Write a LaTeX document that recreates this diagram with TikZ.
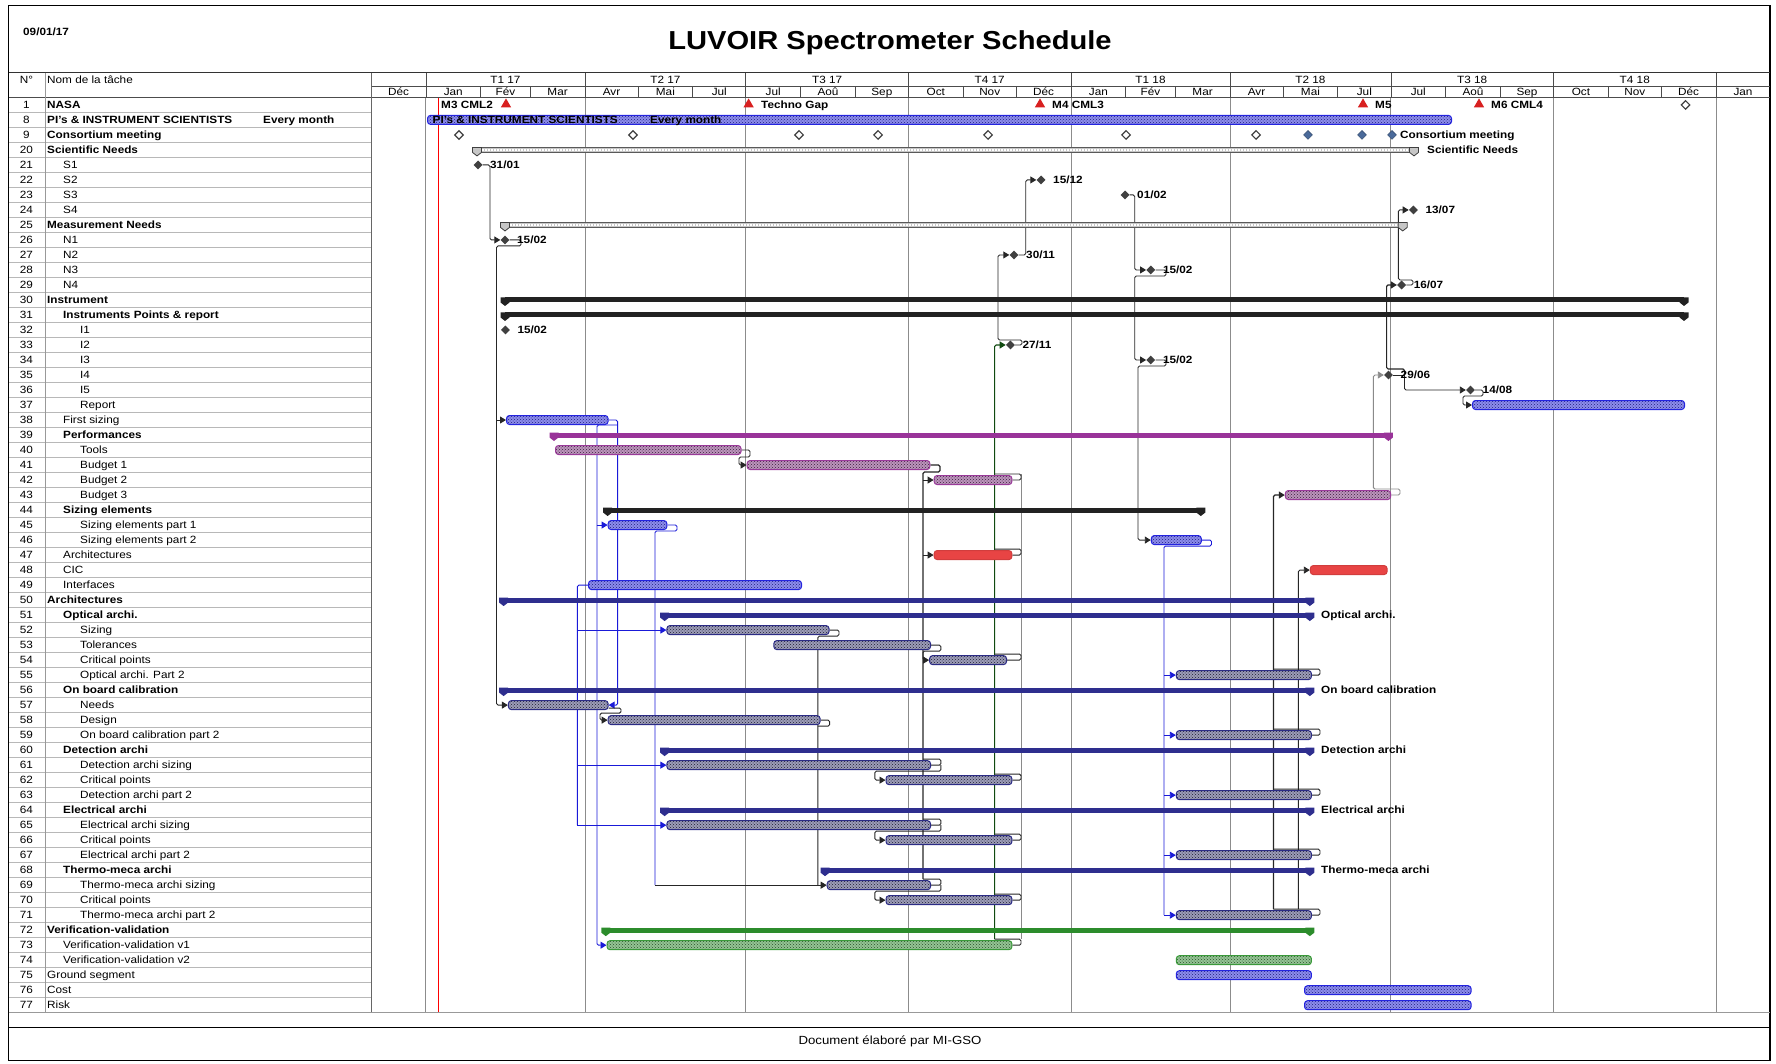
\documentclass[tikz,border=0pt]{standalone}
\usepackage{fontspec}
\setmainfont{Liberation Sans}[FakeStretch=1.12]
\usetikzlibrary{shapes.geometric,arrows.meta,patterns}
\definecolor{bBlueD}{HTML}{2424E0}
\definecolor{bBlueF}{HTML}{8C8CEC}
\definecolor{bBlueP}{HTML}{20207A}
\definecolor{bNavyD}{HTML}{2C2C86}
\definecolor{bNavyF}{HTML}{9C9CB8}
\definecolor{bNavyP}{HTML}{1E1E30}
\definecolor{bPurD}{HTML}{9A3A9A}
\definecolor{bPurF}{HTML}{BC94BC}
\definecolor{bPurP}{HTML}{3A203A}
\definecolor{bGrnD}{HTML}{3A9A3A}
\definecolor{bGrnF}{HTML}{94C494}
\definecolor{bGrnP}{HTML}{2A502A}
\definecolor{bRed}{HTML}{E84444}
\definecolor{sNavy}{HTML}{2E2E8E}
\definecolor{sPur}{HTML}{993399}
\definecolor{sGrn}{HTML}{2C8C2C}
\definecolor{sBlk}{HTML}{222222}
\definecolor{gridG}{HTML}{8C8C8C}
\definecolor{rowG}{HTML}{B8B8B8}
\definecolor{depBlue}{HTML}{1A1AD8}
\definecolor{depGrn}{HTML}{104A10}
\definecolor{depGray}{HTML}{8A8A8A}
\definecolor{msGray}{HTML}{404040}
\definecolor{msBlue}{HTML}{4A6A9A}
\definecolor{triRed}{HTML}{D82020}
\pgfdeclarelayer{gridlayer}
\pgfdeclarelayer{deplayer}
\pgfsetlayers{gridlayer,deplayer,main}
\tikzset{
  declare function={ry(\n)=104.9+15.005*((\n>=20)*(\n-17)+(\n==8)+2*(\n==9));},
  tasktxt/.style={anchor=west,inner sep=0pt,text height=7.5pt,text depth=0pt},
  numtxt/.style={inner sep=0pt,text height=7.5pt,text depth=0pt},
  lbl/.style={anchor=west,inner sep=0pt,text height=7.5pt,text depth=0pt,font=\fontsize{10.5}{12}\selectfont\bfseries},
  hdr/.style={inner sep=0pt,text height=7.5pt,text depth=0pt},
  gbase/.style={rounded corners=3pt,minimum height=9pt,inner sep=0pt,line width=1pt},
  gblue/.style={gbase,draw=bBlueD,preaction={fill=bBlueF},pattern=crosshatch dots,pattern color=bBlueP},
  gnavy/.style={gbase,draw=bNavyD,preaction={fill=bNavyF},pattern=crosshatch dots,pattern color=bNavyP},
  gpur/.style={gbase,draw=bPurD,preaction={fill=bPurF},pattern=crosshatch dots,pattern color=bPurP},
  ggrn/.style={gbase,draw=bGrnD,preaction={fill=bGrnF},pattern=crosshatch dots,pattern color=bGrnP},
  gred/.style={gbase,draw=bRed!90!black,fill=bRed},
  sumbar/.style={inner sep=0pt,minimum height=5pt,draw=none},
  ms/.style={diamond,inner sep=0pt,minimum size=9pt,fill=msGray},
  mso/.style={diamond,inner sep=0pt,minimum size=9pt,draw=msGray,line width=1.2pt,fill=white},
  msb/.style={diamond,inner sep=0pt,minimum size=9pt,fill=msBlue,draw=msBlue!70!black},
  tri/.style={regular polygon,regular polygon sides=3,inner sep=0pt,minimum size=12pt,fill=triRed},
  dl/.style={draw=black!85,line width=0.9pt,rounded corners=1.5pt},
  dep/.style={dl,-{Triangle[length=6pt,width=7pt]}},
  dlb/.style={dl,draw=depBlue},
  depb/.style={dep,draw=depBlue},
  dlg/.style={dl,draw=depGrn},
  depg/.style={dep,draw=depGrn},
  dlgr/.style={dl,draw=depGray},
  depgr/.style={dep,draw=depGray},
}
\newcommand\taskrow[4]{%
  \node[numtxt] (n#1) at (26.5,{ry(#1)}) {#1};
  \node[tasktxt] (t#1) at (#2,{ry(#1)}) {#3#4};}
\newcommand\gantbar[4]{\node[#1,minimum width={(#4-#3)*1pt},anchor=west] (b#2) at (#3,{ry(#2)}) {};}
\newcommand\sumb[4]{%
  \node[sumbar,fill=#1,minimum width={(#4-#3)*1pt},anchor=west] (b#2) at (#3,{ry(#2)}) {};
  \fill[#1] ({#3-4.5},{ry(#2)-2.5}) -- ++(9,0) -- ++(0,5) -- ++(-4.5,3.5) -- ++(-4.5,-3.5) -- cycle;
  \fill[#1] ({#4-4.5},{ry(#2)-2.5}) -- ++(9,0) -- ++(0,5) -- ++(-4.5,3.5) -- ++(-4.5,-3.5) -- cycle;}
\newcommand\hatchb[3]{%
  \node[sumbar,minimum height=5pt,draw=gray!70!black,fill=gray!45,line width=0.6pt,minimum width={(#3-#2)*1pt},anchor=west] (b#1) at (#2,{ry(#1)}) {};
  \draw[white,line width=1.2pt,dash pattern=on 1.5pt off 1.5pt] ({#2+2},{ry(#1)}) -- ({#3-2},{ry(#1)});
  \filldraw[draw=gray!50!black,fill=gray!45,line width=0.8pt] ({#2-4.5},{ry(#1)-2.5}) -- ++(9,0) -- ++(0,5) -- ++(-4.5,3.5) -- ++(-4.5,-3.5) -- cycle;
  \filldraw[draw=gray!50!black,fill=gray!45,line width=0.8pt] ({#3-4.5},{ry(#1)-2.5}) -- ++(9,0) -- ++(0,5) -- ++(-4.5,3.5) -- ++(-4.5,-3.5) -- cycle;}
\begin{document}
\begin{tikzpicture}[x=1pt,y=-1pt,font=\fontsize{10.5}{12}\selectfont]
\useasboundingbox (0,0) rectangle (1776,1063);
% ---------- frame and header ----------
\begin{pgfonlayer}{gridlayer}
\foreach \k in {1,...,60} \draw[rowG,line width=0.9pt] (8.5,{97.4+15.005*\k}) -- (371.1,{97.4+15.005*\k});
\foreach \x in {425.9,585.0,745.8,908.4,1071.0,1230.0,1390.9,1553.5,1716.0} \draw[gridG,line width=1pt] (\x,97.4) -- (\x,1012.7);
\draw[red,line width=1.2pt] (438.6,97.4) -- (438.6,1012.7);
\end{pgfonlayer}
\draw[line width=1.5pt] (8.5,5.5) rectangle (1770,1060.5);
\draw[line width=1.2pt,black!80] (8.5,72.5) -- (1770,72.5);
\draw[line width=1pt,black!70] (8.5,97.4) -- (1770,97.4);
\draw[black!70,line width=0.8pt] (371.1,86) -- (1770,86);
\draw[gray!80,line width=1pt] (45,72.5) -- (45,1012.7);
\draw[gray!80!black,line width=1.2pt] (371.1,72.5) -- (371.1,1012.7);
\draw[gray!80,line width=1.2pt] (8.5,1012.7) -- (1770,1012.7);
\draw[line width=1.2pt] (8.5,1027.5) -- (1770,1027.5);
\foreach \x in {425.9,585.0,745.8,908.4,1071.0,1230.0,1390.9,1553.5,1716.0} \draw[black!70,line width=0.8pt] (\x,72.5) -- (\x,86);
\foreach \x in {425.9,480.7,530.2,585.0,638.0,692.8,745.8,800.6,855.3,908.4,963.2,1016.2,1071.0,1125.7,1175.2,1230.0,1283.1,1337.8,1390.9,1445.7,1500.4,1553.5,1608.3,1661.3,1716.0} \draw[black!70,line width=0.8pt] (\x,86) -- (\x,97.4);
\node[anchor=west,inner sep=0pt,font=\fontsize{10.5}{12}\selectfont\bfseries] (date) at (23,32) {09/01/17};
\node[inner sep=0pt,font=\fontsize{26}{30}\selectfont\bfseries] (title) at (890,43) {LUVOIR Spectrometer Schedule};
\node[hdr] (hnum) at (26.5,80) {N°};
\node[tasktxt] (hname) at (47,80) {Nom de la tâche};
\foreach \a/\b/\q [count=\k] in {425.9/585.0/T1 17,585.0/745.8/T2 17,745.8/908.4/T3 17,908.4/1071.0/T4 17,1071.0/1230.0/T1 18,1230.0/1390.9/T2 18,1390.9/1553.5/T3 18,1553.5/1716.0/T4 18}
  \node[hdr] (q\k) at ({(\a+\b)/2},79.5) {\q};
\foreach \a/\b/\m [count=\k] in {371.1/425.9/Déc,425.9/480.7/Jan,480.7/530.2/Fév,530.2/585.0/Mar,585.0/638.0/Avr,638.0/692.8/Mai,692.8/745.8/Jul,745.8/800.6/Jul,800.6/855.3/Aoû,855.3/908.4/Sep,908.4/963.2/Oct,963.2/1016.2/Nov,1016.2/1071.0/Déc,1071.0/1125.7/Jan,1125.7/1175.2/Fév,1175.2/1230.0/Mar,1230.0/1283.1/Avr,1283.1/1337.8/Mai,1337.8/1390.9/Jul,1390.9/1445.7/Jul,1445.7/1500.4/Aoû,1500.4/1553.5/Sep,1553.5/1608.3/Oct,1608.3/1661.3/Nov,1661.3/1716.0/Déc,1716.0/1770.0/Jan}
  \node[hdr] (mo\k) at ({(\a+\b)/2},91.8) {\m};
\node[inner sep=0pt,font=\fontsize{11.8}{14}\selectfont] (foot) at (890,1041) {Document élaboré par MI-GSO};
% ---------- task table ----------
\taskrow{1}{47}{\bfseries}{NASA}
\taskrow{8}{47}{\bfseries}{PI's \& INSTRUMENT SCIENTISTS}
\node[tasktxt,font=\fontsize{10.5}{12}\selectfont\bfseries] (t8b) at (263,{ry(8)}) {Every month};
\taskrow{9}{47}{\bfseries}{Consortium meeting}
\taskrow{20}{47}{\bfseries}{Scientific Needs}
\taskrow{21}{63}{}{S1}
\taskrow{22}{63}{}{S2}
\taskrow{23}{63}{}{S3}
\taskrow{24}{63}{}{S4}
\taskrow{25}{47}{\bfseries}{Measurement Needs}
\taskrow{26}{63}{}{N1}
\taskrow{27}{63}{}{N2}
\taskrow{28}{63}{}{N3}
\taskrow{29}{63}{}{N4}
\taskrow{30}{47}{\bfseries}{Instrument}
\taskrow{31}{63}{\bfseries}{Instruments Points \& report}
\taskrow{32}{80}{}{I1}
\taskrow{33}{80}{}{I2}
\taskrow{34}{80}{}{I3}
\taskrow{35}{80}{}{I4}
\taskrow{36}{80}{}{I5}
\taskrow{37}{80}{}{Report}
\taskrow{38}{63}{}{First sizing}
\taskrow{39}{63}{\bfseries}{Performances}
\taskrow{40}{80}{}{Tools}
\taskrow{41}{80}{}{Budget 1}
\taskrow{42}{80}{}{Budget 2}
\taskrow{43}{80}{}{Budget 3}
\taskrow{44}{63}{\bfseries}{Sizing elements}
\taskrow{45}{80}{}{Sizing elements part 1}
\taskrow{46}{80}{}{Sizing elements part 2}
\taskrow{47}{63}{}{Architectures}
\taskrow{48}{63}{}{CIC}
\taskrow{49}{63}{}{Interfaces}
\taskrow{50}{47}{\bfseries}{Architectures}
\taskrow{51}{63}{\bfseries}{Optical archi.}
\taskrow{52}{80}{}{Sizing}
\taskrow{53}{80}{}{Tolerances}
\taskrow{54}{80}{}{Critical points}
\taskrow{55}{80}{}{Optical archi. Part 2}
\taskrow{56}{63}{\bfseries}{On board calibration}
\taskrow{57}{80}{}{Needs}
\taskrow{58}{80}{}{Design}
\taskrow{59}{80}{}{On board calibration part 2}
\taskrow{60}{63}{\bfseries}{Detection archi}
\taskrow{61}{80}{}{Detection archi sizing}
\taskrow{62}{80}{}{Critical points}
\taskrow{63}{80}{}{Detection archi part 2}
\taskrow{64}{63}{\bfseries}{Electrical archi}
\taskrow{65}{80}{}{Electrical archi sizing}
\taskrow{66}{80}{}{Critical points}
\taskrow{67}{80}{}{Electrical archi part 2}
\taskrow{68}{63}{\bfseries}{Thermo-meca archi}
\taskrow{69}{80}{}{Thermo-meca archi sizing}
\taskrow{70}{80}{}{Critical points}
\taskrow{71}{80}{}{Thermo-meca archi part 2}
\taskrow{72}{47}{\bfseries}{Verification-validation}
\taskrow{73}{63}{}{Verification-validation v1}
\taskrow{74}{63}{}{Verification-validation v2}
\taskrow{75}{47}{}{Ground segment}
\taskrow{76}{47}{}{Cost}
\taskrow{77}{47}{}{Risk}
% ---------- row 1, 8, 9 ----------
\node[lbl] (nasa1) at (441,{ry(1)}) {M3 CML2};
\node[tri] (tr1) at (506,{ry(1)-0.5}) {};
\node[tri] (tr2) at (748.6,{ry(1)-0.5}) {};
\node[lbl] (nasa2) at (761,{ry(1)}) {Techno Gap};
\node[tri] (tr3) at (1040,{ry(1)-0.5}) {};
\node[lbl] (nasa3) at (1052,{ry(1)}) {M4 CML3};
\node[tri] (tr4) at (1363,{ry(1)-0.5}) {};
\node[lbl] (nasa4) at (1375,{ry(1)}) {M5};
\node[tri] (tr5) at (1479,{ry(1)-0.5}) {};
\node[lbl] (nasa5) at (1491,{ry(1)}) {M6 CML4};
\node[mso] (nasa6) at (1685.5,{ry(1)}) {};
\gantbar{gblue}{8}{427}{1451}
\node[lbl] (pi1) at (432.5,{ry(8)}) {PI's \& INSTRUMENT SCIENTISTS};
\node[lbl] (pi2) at (650,{ry(8)}) {Every month};
\foreach \x [count=\k] in {459,633,799,878,988,1126,1256} \node[mso] (c\k) at (\x,{ry(9)}) {};
\node[msb] (c8) at (1308,{ry(9)}) {};
\node[msb] (c9) at (1362,{ry(9)}) {};
\node[msb] (c10) at (1392,{ry(9)}) {};
\node[lbl] (cml) at (1400,{ry(9)}) {Consortium meeting};
% ---------- summaries ----------
\hatchb{20}{477}{1414}
\node[lbl] (l20) at (1427,{ry(20)}) {Scientific Needs};
\hatchb{25}{505}{1402.7}
\sumb{sBlk}{30}{505}{1684}
\sumb{sBlk}{31}{505}{1684}
\sumb{sPur}{39}{554}{1388.4}
\sumb{sBlk}{44}{607.6}{1200.8}
\sumb{sNavy}{50}{503.6}{1309.8}
\sumb{sNavy}{51}{664.6}{1309.8}
\sumb{sNavy}{56}{503.6}{1309.8}
\sumb{sNavy}{60}{664.6}{1309.8}
\sumb{sNavy}{64}{664.6}{1309.8}
\sumb{sNavy}{68}{825}{1309.8}
\sumb{sGrn}{72}{605.8}{1309.8}
\node[lbl] (l51) at (1321,{ry(51)}) {Optical archi.};
\node[lbl] (l56) at (1321,{ry(56)}) {On board calibration};
\node[lbl] (l60) at (1321,{ry(60)}) {Detection archi};
\node[lbl] (l64) at (1321,{ry(64)}) {Electrical archi};
\node[lbl] (l68) at (1321,{ry(68)}) {Thermo-meca archi};
% ---------- milestones ----------
\foreach \r/\x/\d in {21/478/31\slash 01,22/1041/15\slash 12,23/1125/01\slash 02,24/1413.4/13\slash 07,26/505/15\slash 02,27/1014/30\slash 11,28/1150.8/15\slash 02,29/1401.6/16\slash 07,32/505.4/15\slash 02,33/1010.4/27\slash 11,34/1150.8/15\slash 02,35/1388.5/29\slash 06,36/1470.5/14\slash 08}{
  \node[ms] (m\r) at (\x,{ry(\r)}) {};
  \node[lbl] (l\r) at ({\x+12},{ry(\r)}) {\d};
}
% ---------- task bars ----------
\gantbar{gblue}{37}{1472}{1684}
\gantbar{gblue}{38}{506}{607.6}
\gantbar{gpur}{40}{555}{740.5}
\gantbar{gpur}{41}{746.6}{929.4}
\gantbar{gpur}{42}{933.6}{1011.4}
\gantbar{gpur}{43}{1284.8}{1390.2}
\gantbar{gblue}{45}{607.6}{666.4}
\gantbar{gblue}{46}{1150.8}{1200.8}
\gantbar{gred}{47}{933.6}{1011.4}
\gantbar{gred}{48}{1309.8}{1386.6}
\gantbar{gblue}{49}{588}{801}
\gantbar{gnavy}{52}{666.4}{828.5}
\gantbar{gnavy}{53}{773.3}{930}
\gantbar{gnavy}{54}{929.1}{1006}
\gantbar{gnavy}{55}{1175.8}{1310.9}
\gantbar{gnavy}{57}{507.9}{607.6}
\gantbar{gnavy}{58}{607.6}{819.6}
\gantbar{gnavy}{59}{1175.8}{1310.9}
\gantbar{gnavy}{61}{666.4}{930}
\gantbar{gnavy}{62}{885.5}{1011.4}
\gantbar{gnavy}{63}{1175.8}{1310.9}
\gantbar{gnavy}{65}{666.4}{930}
\gantbar{gnavy}{66}{885.5}{1011.4}
\gantbar{gnavy}{67}{1175.8}{1310.9}
\gantbar{gnavy}{69}{826.7}{930}
\gantbar{gnavy}{70}{885.5}{1011.4}
\gantbar{gnavy}{71}{1175.8}{1310.9}
\gantbar{ggrn}{73}{606.5}{1011.4}
\gantbar{ggrn}{74}{1175.8}{1310.9}
\gantbar{gblue}{75}{1175.8}{1310.9}
\gantbar{gblue}{76}{1304}{1470.6}
\gantbar{gblue}{77}{1304}{1470.6}
% ---------- dependencies ----------
\begin{pgfonlayer}{deplayer}
\draw[dep] (m21.east) -- (490,{ry(21)}) |- (m26.west);
\draw[dl] (m26.east) -- (521,{ry(26)}) -- (521,{ry(26)+6}) -| (496.5,{ry(38)});
\draw[dep] (496.5,{ry(38)}) -- (b38.west);
\draw[dep] (496.5,{ry(38)}) |- (b57.west);
\draw[dep] (m27.east) -- (1025.7,{ry(27)}) |- (m22.west);
\draw[dep] (m33.east) -- (1022,{ry(33)}) -- (1022,{ry(33)-5}) -| (998,{ry(27)}) -- (m27.west);
\draw[depg,line width=1.2pt] (994.6,{ry(73)-6}) -- (994.6,{ry(33)}) -- (m33.west);
\draw[dlgr] (1021,{ry(42)-6}) -- (1021,{ry(73)-6});
\foreach \r in {42,47,54,62,66,70,73} \draw[dl] (b\r.east) -- (1021,{ry(\r)}) -- (1021,{ry(\r)-6}) -- (994.6,{ry(\r)-6});
\draw[dep] (m23.east) -- (1134.7,{ry(23)}) |- (m28.west);
\draw[dep] (m28.east) -- (1166,{ry(28)}) -- (1166,{ry(28)+6}) -| (1134.7,{ry(34)}) -- (m34.west);
\draw[dep] (m34.east) -- (1166,{ry(34)}) -- (1166,{ry(34)+6}) -| (1138,{ry(46)}) -- (b46.west);
\draw[dep] (m29.east) -- (1413,{ry(29)}) -- (1413,{ry(29)-5}) -| (1398.4,{ry(24)}) -- (m24.west);
\draw[dl] (m35.east) -- (1404.5,{ry(35)});
\draw[dep,line width=1.2pt] (1404.5,{ry(35)}) -- (1404.5,{ry(35)-6}) -| (1386.6,{ry(29)}) -- (m29.west);
\draw[dep] (1404.5,{ry(35)}) |- (m36.west);
\draw[dep] (m36.east) -- (1483,{ry(36)}) -- (1483,{ry(36)+6}) -| (1463,{ry(37)}) -- (b37.west);
\draw[depgr] (b43.east) -- (1400,{ry(43)}) -- (1400,{ry(43)-6}) -| (1373.4,{ry(35)}) -- (m35.west);
\draw[dlb] (b46.east) -- (1211.5,{ry(46)}) -- (1211.5,{ry(46)+6}) -| (1164,{ry(71)});
\foreach \r in {55,59,63,67,71} \draw[depb] (1164,{ry(\r)}) -- (b\r.west);
\draw[dep,line width=1.2pt] (1273.4,{ry(71)-6}) |- (b43.west);
\draw[dep] (1298.4,{ry(71)-6}) |- (b48.west);
\foreach \r in {55,59,63,67,71} \draw[dl] (b\r.east) -- (1320,{ry(\r)}) -- (1320,{ry(\r)-6}) -- (1273.4,{ry(\r)-6});
\draw[depb] (b38.east) -- (617.6,{ry(38)}) |- (b57.east);
\draw[dlb] (617.6,{ry(38)+5}) -| (597,{ry(45)});
\draw[depb] (597,{ry(45)}) -- (b45.west);
\draw[depb] (597,{ry(45)}) |- (b73.west);
\draw[dep] ([yshift=-3pt]b57.east) -- (621,{ry(57)+3}) -- (621,{ry(57)+8}) -| (600,{ry(58)}) -- (b58.west);
\draw[dlb] (b45.east) -- (677,{ry(45)}) -- (677,{ry(45)+6}) -| (655,{ry(69)});
\draw[dep] (655,{ry(69)}) -- (b69.west);
\draw[dlb] (b49.west) -- (577.4,{ry(49)}) -- (577.4,{ry(65)});
\foreach \r in {52,61,65} \draw[depb] (577.4,{ry(\r)}) -- (b\r.west);
\draw[dl] (b52.east) -- (839,{ry(52)}) -- (839,{ry(52)+6}) -| (817.8,{ry(69)});
\draw[dl] (b58.east) -- (829.6,{ry(58)}) -- (829.6,{ry(58)+6}) -- (817.8,{ry(58)+6});
\draw[dep] (b40.east) -- (750,{ry(40)}) -- (750,{ry(40)+7}) -| (739,{ry(41)}) -- (b41.west);
\draw[dl,line width=1.3pt] (b41.east) -- (940,{ry(41)}) -- (940,{ry(41)+7}) -- (923,{ry(41)+7}) -- (923,{ry(69)-6});
\draw[dep] (923,{ry(42)}) -- (b42.west);
\draw[dep] (923,{ry(47)}) -- (b47.west);
\foreach \r in {61,65,69} \draw[dl] (b\r.east) -- (940.8,{ry(\r)}) -- (940.8,{ry(\r)-6}) -- (923,{ry(\r)-6});
\foreach \r/\s in {61/62,65/66,69/70} \draw[dep] (940.8,{ry(\r)}) -- (940.8,{ry(\r)+6}) -| (874.8,{ry(\s)}) -- (b\s.west);
\draw[dep] (b53.east) -- (940.8,{ry(53)}) -- (940.8,{ry(53)+6}) -| (923,{ry(54)}) -- (b54.west);
\end{pgfonlayer}
\end{tikzpicture}
\end{document}
